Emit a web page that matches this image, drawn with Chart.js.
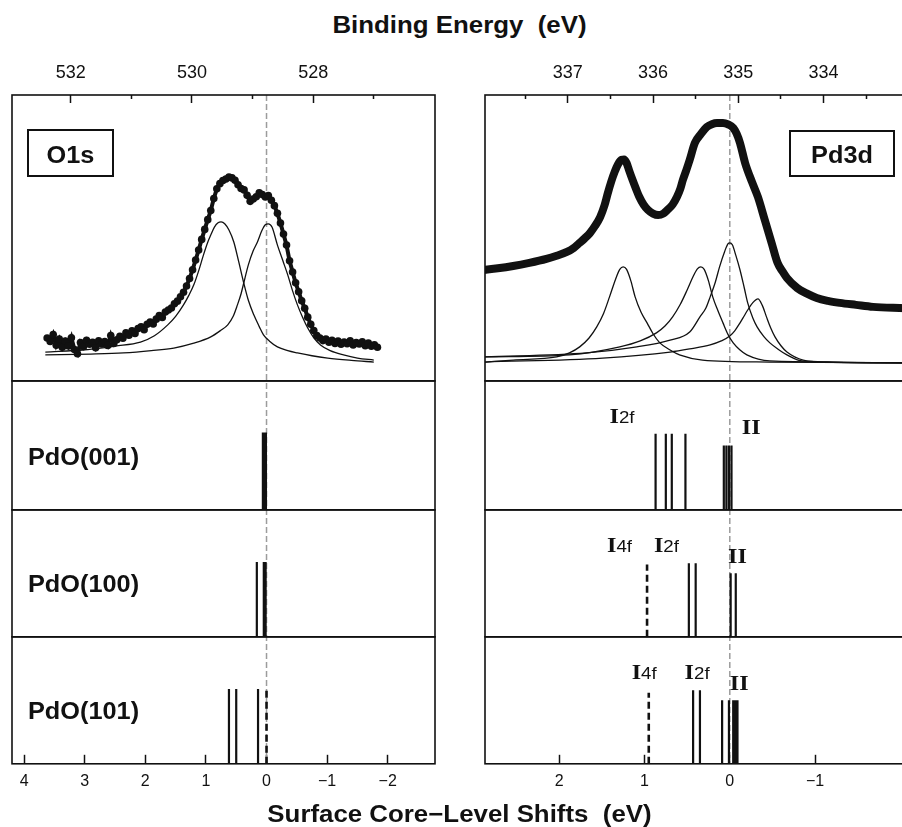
<!DOCTYPE html>
<html>
<head>
<meta charset="utf-8">
<title>O1s / Pd3d surface core-level shifts</title>
<script src="https://cdn.jsdelivr.net/npm/chart.js@4.4.1/dist/chart.umd.min.js"></script>
<style>
  html, body { margin: 0; padding: 0; background: #fff; overflow: hidden; }
  body { width: 902px; height: 827px; position: relative; }
  .col { position: absolute; top: 0; height: 827px; width: 460px; }
  #leftCol { left: 0; }
  #rightCol { left: 460px; }
  .axisTitle { position: absolute; left: 0; width: 919px; text-align: center; white-space: pre;
    font-family: "Liberation Sans", Arial, sans-serif; font-weight: bold; font-size: 23.5px;
    line-height: 24px; color: #111; transform: scaleX(1.1); }
  #topTitle { top: 12.6px; }
  #bottomTitle { top: 802px; }
</style>
</head>
<body>
<div id="topTitle" class="axisTitle">Binding Energy  (eV)</div>
<div class="col" id="leftCol"><canvas id="leftChart"></canvas></div>
<div class="col" id="rightCol"><canvas id="rightChart"></canvas></div>
<div id="bottomTitle" class="axisTitle">Surface Core−Level Shifts  (eV)</div>
<script>
// axes
const leftShiftRange = [-2.78, 4.2];
const rightShiftRange = [-2.23, 2.87];
const o1sRefBE = 528.77;   // binding energy of the 0 shift, O1s
const pdRefBE = 335.1;     // binding energy of the 0 shift, Pd3d
const leftBETicks = [532, 531, 530, 529, 528, 527];
const leftBELabels = [532, 530, 528];
const rightBETicks = [337.5, 337, 336.5, 336, 335.5, 335, 334.5, 334, 333.5];
const rightBELabels = [337, 336, 335, 334];
const leftShiftTicks = [4, 3, 2, 1, 0, -1, -2];
const rightShiftTicks = [2, 1, 0, -1];
const rowNames = ['PdO(001)', 'PdO(100)', 'PdO(101)'];

// O1s measured spectrum
const o1sShift = [3.62, 3.57, 3.52, 3.47, 3.42, 3.37, 3.32, 3.27, 3.22, 3.17, 3.12, 3.07, 3.02, 2.97, 2.92,
  2.87, 2.82, 2.77, 2.72, 2.67, 2.62, 2.57, 2.52, 2.47, 2.42, 2.37, 2.32, 2.27, 2.22, 2.17, 2.12, 2.07, 2.02,
  1.97, 1.92, 1.87, 1.82, 1.77, 1.72, 1.67, 1.62, 1.57, 1.52, 1.47, 1.42, 1.37, 1.32, 1.27, 1.22, 1.17, 1.12,
  1.07, 1.02, 0.97, 0.92, 0.87, 0.82, 0.77, 0.72, 0.67, 0.62, 0.57, 0.52, 0.47, 0.42, 0.37, 0.32, 0.27, 0.22,
  0.17, 0.12, 0.07, 0.02, -0.03, -0.08, -0.13, -0.18, -0.23, -0.28, -0.33, -0.38, -0.43, -0.48, -0.53, -0.58,
  -0.63, -0.68, -0.73, -0.78, -0.83, -0.88, -0.93, -0.98, -1.03, -1.08, -1.13, -1.18, -1.23, -1.28, -1.33,
  -1.38, -1.43, -1.48, -1.53, -1.58, -1.63, -1.68, -1.73, -1.78, -1.83];
const o1sCounts = [15.0, 13.8, 16.2, 12.5, 14.6, 11.8, 13.9, 12.2, 15.1, 11.0, 9.5, 13.4, 12.0, 14.2, 12.8,
  13.5, 11.6, 14.0, 12.9, 13.8, 12.4, 15.9, 13.1, 14.4, 15.6, 14.9, 16.8, 16.0, 17.5, 16.6, 18.3, 18.9, 17.9,
  19.8, 20.6, 19.9, 21.6, 22.9, 22.2, 24.1, 24.8, 25.5, 27.0, 27.9, 29.4, 31.0, 33.2, 35.8, 38.9, 42.3, 45.8,
  49.5, 53.0, 56.4, 59.6, 63.8, 67.2, 69.0, 70.1, 70.6, 71.3, 71.0, 70.2, 68.6, 67.3, 66.8, 64.9, 62.8, 63.6,
  64.4, 65.8, 65.2, 64.3, 64.8, 63.2, 61.3, 58.6, 55.2, 51.4, 47.5, 42.0, 38.1, 34.3, 31.2, 28.0,
  25.4, 22.3, 19.8, 17.6, 15.9, 15.0, 14.1, 14.6, 13.5, 14.2, 13.1, 13.9, 12.8, 13.6, 13.0,
  14.0, 12.6, 13.4, 12.9, 13.7, 12.3, 13.2, 12.1, 12.6, 11.8];

// O1s fit components
const o1sFitAShift = [3.65, 3.00, 2.74, 2.50, 2.08, 1.85, 1.63, 1.50, 1.37, 1.28, 1.20, 1.12, 1.04, 0.97, 0.92,
  0.86, 0.80, 0.75, 0.69, 0.62, 0.54, 0.46, 0.38, 0.30, 0.21, 0.12, 0.05, -0.05, -0.18, -0.35, -0.51, -0.75,
  -1.01, -1.40, -1.77];
const o1sFitACounts = [10.1, 10.9, 11.5, 12.2, 13.6, 15.8, 19.6, 22.6, 26.6, 30.0, 33.6, 38.5, 44.1, 48.5, 51.0,
  53.8, 55.3, 55.6, 55.0, 52.8, 48.6, 41.8, 34.6, 28.2, 23.1, 19.0, 16.1, 13.9, 11.9, 10.6, 9.8, 8.8,
  8.0, 7.2, 6.6];
const o1sFitBShift = [3.65, 2.90, 2.36, 1.90, 1.53, 1.20, 0.92, 0.76, 0.64, 0.55, 0.48, 0.42, 0.38, 0.30, 0.22,
  0.15, 0.08, 0.02, -0.03, -0.09, -0.18, -0.27, -0.35, -0.43, -0.51, -0.60, -0.68, -0.78, -0.89, -1.05,
  -1.27, -1.50, -1.77];
const o1sFitBCounts = [9.1, 9.4, 9.8, 10.6, 11.5, 13.2, 15.4, 17.6, 19.6, 22.6, 26.6, 30.5, 33.9, 40.6, 45.5,
  48.6, 52.4, 54.6, 54.9, 53.8, 47.5, 42.0, 37.1, 31.5, 26.6, 22.0, 18.5, 15.1, 12.6, 10.6,
  9.1, 8.0, 7.3];

// Pd3d measured spectrum
const pdShift = [2.90, 2.72, 2.54, 2.35, 2.15, 2.03, 1.91, 1.83, 1.76, 1.70, 1.64, 1.58, 1.52, 1.47, 1.43,
  1.39, 1.35, 1.31, 1.27, 1.24, 1.21, 1.18, 1.14, 1.10, 1.06, 1.01, 0.96, 0.90, 0.84, 0.78, 0.73, 0.67, 0.62,
  0.58, 0.55, 0.51, 0.47, 0.41, 0.34, 0.27, 0.21, 0.15, 0.08, 0.02, -0.04, -0.08, -0.12, -0.18, -0.26, -0.33,
  -0.41, -0.49, -0.56, -0.62, -0.67, -0.79, -0.90, -1.02, -1.15, -1.29, -1.48, -1.68, -1.99, -2.23];
const pdCounts = [38.8, 39.4, 40.2, 41.3, 42.7, 43.8, 45.1, 46.5, 48.3, 49.9, 51.7, 54.2, 57.3, 61.3, 65.7,
  69.7, 73.1, 75.8, 77.3, 77.4, 76.2, 73.6, 70.3, 67.2, 64.3, 61.6, 59.8, 58.5, 58.0, 58.5, 59.8, 61.7, 64.3,
  67.2, 70.3, 73.7, 77.3, 83.2, 86.3, 88.8, 89.8, 90.2, 90.2, 89.7, 88.5, 86.5, 83.2, 76.2, 69.6, 64.3,
  56.3, 48.3, 41.3, 38.2, 36.0, 32.5, 30.6, 29.0, 28.0, 27.3, 26.6, 25.9, 25.5, 25.3];

// Pd3d fit components
const pdFitAShift = [2.87, 2.54, 2.03, 1.88, 1.76, 1.65, 1.56, 1.48, 1.41, 1.34, 1.29, 1.25, 1.21, 1.16, 1.11,
  1.04, 0.97, 0.90, 0.82, 0.70, 0.59, 0.32, -0.47, -2.23];
const pdFitACounts = [6.6, 7.3, 8.4, 9.8, 11.9, 15.0, 18.9, 23.6, 29.4, 35.5, 39.0, 39.9, 39.0, 35.0, 29.4,
  24.0, 20.3, 16.5, 13.3, 10.8, 9.1, 7.3, 6.6, 6.3];
const pdFitBShift = [2.87, 1.88, 1.29, 1.05, 0.86, 0.76, 0.67, 0.58, 0.50, 0.43, 0.38, 0.34, 0.30, 0.25, 0.20,
  0.14, 0.08, 0.02, -0.04, -0.12, -0.20, -0.47, -2.23];
const pdFitBCounts = [8.4, 9.1, 11.9, 14.0, 16.8, 19.2, 22.4, 26.8, 31.8, 36.5, 39.2, 39.9, 39.0, 35.0, 29.4,
  24.6, 20.3, 16.2, 13.3, 10.8, 9.1, 7.0, 6.3];
const pdFitCShift = [2.87, 1.68, 1.09, 0.70, 0.47, 0.35, 0.28, 0.23, 0.17, 0.12, 0.06, 0.02, 0.00, -0.03, -0.07,
  -0.12, -0.17, -0.21, -0.27, -0.32, -0.40, -0.47, -0.57, -0.67, -0.86, -2.23];
const pdFitCCounts = [8.4, 9.8, 11.9, 14.3, 17.1, 22.4, 25.5, 29.4, 34.5, 39.9, 45.3, 48.0, 48.3, 47.6, 44.0,
  38.8, 32.5, 27.3, 22.0, 18.9, 15.5, 13.3, 11.0, 9.1, 6.9, 6.3];
const pdFitDShift = [2.87, 1.49, 0.70, 0.47, 0.23, 0.10, 0.00, -0.06, -0.12, -0.17, -0.21, -0.27, -0.33, -0.38,
  -0.43, -0.48, -0.53, -0.60, -0.67, -0.86, -1.20, -2.23];
const pdFitDCounts = [6.6, 8.0, 10.1, 11.2, 12.6, 14.0, 15.7, 17.6, 20.3, 22.8, 24.8, 27.4, 28.7, 26.5,
  22.4, 18.5, 15.4, 12.3, 10.1, 7.3, 6.5, 6.3];

// calculated shifts, O1s
const o001Shift = [0.06, 0.035, 0.01];
const o001Height = [60, 60, 60];
const o100Shift = [0.16, 0.045, 0.015];
const o100Height = [59, 59, 59];
const o101Shift = [0.62, 0.50, 0.14];
const o101Height = [59, 59, 59];
const o101DashShift = [0.0];
const o101DashHeight = [59];

// calculated shifts, Pd3d
const p001Shift = [0.87, 0.75, 0.68, 0.52, 0.07, 0.04, 0.01, -0.02];
const p001Height = [59, 59, 59, 59, 50, 50, 50, 50];
const p100Shift = [0.48, 0.40, -0.01, -0.07];
const p100Height = [58, 58, 50, 50];
const p100DashShift = [0.97];
const p100DashHeight = [57];
const p101Shift = [0.43, 0.35, 0.09, 0.01, -0.04, -0.065, -0.09];
const p101Height = [58, 58, 50, 50, 50, 50, 50];
const p101DashShift = [0.95];
const p101DashHeight = [56];

const peakLabels = [
  {row: 'y001', x: 1.41, y: 67, main: 'I', sub: '2f'},
  {row: 'y001', x: -0.14, y: 59, main: 'II', sub: ''},
  {row: 'y100', x: 1.44, y: 67, main: 'I', sub: '4f'},
  {row: 'y100', x: 0.89, y: 67, main: 'I', sub: '2f'},
  {row: 'y100', x: 0.02, y: 58.5, main: 'II', sub: ''},
  {row: 'y101', x: 1.15, y: 67, main: 'I', sub: '4f'},
  {row: 'y101', x: 0.53, y: 67, main: 'I', sub: '2f'},
  {row: 'y101', x: 0.0, y: 58.3, main: 'II', sub: ''}
];

const ink = '#111';
const sans = '"Liberation Sans", Arial, sans-serif';
const serif = '"Liberation Serif", "Times New Roman", serif';
const rowIds = ['ySpec', 'y001', 'y100', 'y101'];
const rowWeights = [286, 129, 127, 127];

function pts(xs, ys) {
  return xs.map((x, i) => ({x: x, y: ys[i]}));
}

function sticks(xs, hs) {
  const out = [];
  xs.forEach((x, i) => { out.push({x: x, y: 0}, {x: x, y: hs[i]}, {x: x, y: null}); });
  return out;
}

function curve(xs, ys) {
  return {data: pts(xs, ys), yAxisID: 'ySpec', borderColor: ink, borderWidth: 1.3,
    pointRadius: 0, cubicInterpolationMode: 'monotone'};
}

function stickSet(xs, hs, row, dashed) {
  return {data: sticks(xs, hs), yAxisID: row, borderColor: ink, pointRadius: 0, spanGaps: false,
    borderWidth: dashed ? 2.6 : 2.2, borderDash: dashed ? [7, 4] : []};
}

function stretchText(ctx, text, x, y, font, align) {
  ctx.save();
  ctx.font = font;
  ctx.textAlign = align;
  ctx.textBaseline = 'alphabetic';
  ctx.translate(x, y);
  ctx.scale(1.1, 1);
  ctx.fillText(text, 0, 0);
  const w = ctx.measureText(text).width * 1.1;
  ctx.restore();
  return w;
}

// frames, reference line and text labels
const decor = {
  id: 'decor',
  beforeDatasetsDraw(chart, args, opts) {
    const {ctx, chartArea, scales} = chart;
    const x = scales.x.getPixelForValue(opts.refShift);
    ctx.save();
    ctx.strokeStyle = '#9c9c9c';
    ctx.lineWidth = 1.5;
    ctx.setLineDash([6, 3]);
    ctx.beginPath();
    ctx.moveTo(x, chartArea.top);
    ctx.lineTo(x, chartArea.bottom);
    ctx.stroke();
    ctx.restore();
  },
  afterDraw(chart, args, opts) {
    const {ctx, chartArea, scales} = chart;
    ctx.save();
    ctx.strokeStyle = ink;
    ctx.fillStyle = ink;
    ctx.lineWidth = 1.6;
    rowIds.forEach(id => {
      const s = scales[id];
      ctx.strokeRect(chartArea.left, s.top, chartArea.right - chartArea.left, s.bottom - s.top);
    });

    const b = opts.box;
    const bx = chartArea.left + b.dx, by = chartArea.top + b.dy;
    ctx.lineWidth = 2;
    ctx.strokeRect(bx, by, b.w, b.h);
    stretchText(ctx, b.text, bx + b.w / 2, by + b.base, 'bold 23px ' + sans, 'center');

    (opts.rowNames || []).forEach((name, i) => {
      const s = scales[rowIds[i + 1]];
      stretchText(ctx, name, chartArea.left + 16, s.getPixelForValue(35), 'bold 23px ' + sans, 'left');
    });

    (opts.peakLabels || []).forEach(l => {
      const x = scales.x.getPixelForValue(l.x);
      const y = scales[l.row].getPixelForValue(l.y);
      const w = stretchText(ctx, l.main, x, y, 'bold 22px ' + serif, 'left');
      if (l.sub) stretchText(ctx, l.sub, x + w, y, '17px ' + sans, 'left');
    });
    ctx.restore();
  }
};

function minus(v) {
  return String(v).replace('-', '\u2212');
}

function makeChart(id, range, refBE, beTicks, beLabels, shiftTicks, datasets, decorOpts, pad) {
  const scales = {
    x: {
      type: 'linear', position: 'bottom', reverse: true, min: range[0], max: range[1],
      afterBuildTicks: s => { s.ticks = shiftTicks.map(v => ({value: v})); },
      afterFit: s => { s.paddingLeft = 0; s.paddingRight = 0; },
      ticks: {autoSkip: false, maxRotation: 0, padding: 17, color: ink,
        font: {family: sans, size: 16}, callback: v => minus(v)},
      grid: {drawOnChartArea: false, tickLength: -9, tickWidth: 1.5, tickColor: ink},
      border: {display: false}
    },
    x2: {
      type: 'linear', position: 'top', reverse: true, min: range[0] + refBE, max: range[1] + refBE,
      afterBuildTicks: s => { s.ticks = beTicks.map(v => ({value: v})); },
      afterFit: s => { s.paddingLeft = 0; s.paddingRight = 0; },
      ticks: {autoSkip: false, maxRotation: 0, padding: 19.4, color: ink,
        font: {family: sans, size: 18}, callback: v => beLabels.includes(v) ? String(v) : ''},
      grid: {drawOnChartArea: false, tickLength: -8, tickWidth: 1.5, tickColor: ink,
        tickBorderDash: c => (c.tick && !beLabels.includes(c.tick.value)) ? [0, 4, 4, 20] : []},
      border: {display: false}
    }
  };
  rowIds.forEach((rid, i) => {
    scales[rid] = {
      type: 'linear', position: 'left', stack: 'rows', stackWeight: rowWeights[i], weight: 4 - i,
      min: 0, max: 100,
      ticks: {display: false},
      grid: {display: false, drawTicks: false},
      border: {display: false}
    };
  });
  return new Chart(document.getElementById(id), {
    type: 'line',
    data: {datasets: datasets},
    plugins: [decor],
    options: {
      responsive: true,
      maintainAspectRatio: false,
      animation: false,
      layout: {autoPadding: false, padding: pad},
      plugins: {legend: {display: false}, tooltip: {enabled: false}, decor: decorOpts},
      scales: scales
    }
  });
}

const leftSets = [
  {data: pts(o1sShift, o1sCounts), yAxisID: 'ySpec', borderColor: ink, borderWidth: 4,
    pointRadius: 3.8, pointBorderWidth: 0, pointBackgroundColor: ink},
  curve(o1sFitAShift, o1sFitACounts),
  curve(o1sFitBShift, o1sFitBCounts),
  stickSet(o001Shift, o001Height, 'y001', false),
  stickSet(o100Shift, o100Height, 'y100', false),
  stickSet(o101Shift, o101Height, 'y101', false),
  stickSet(o101DashShift, o101DashHeight, 'y101', true)
];

const rightSets = [
  {data: pts(pdShift, pdCounts), yAxisID: 'ySpec', borderColor: ink, borderWidth: 8,
    pointRadius: 0, cubicInterpolationMode: 'monotone'},
  curve(pdFitAShift, pdFitACounts),
  curve(pdFitBShift, pdFitBCounts),
  curve(pdFitCShift, pdFitCCounts),
  curve(pdFitDShift, pdFitDCounts),
  stickSet(p001Shift, p001Height, 'y001', false),
  stickSet(p100Shift, p100Height, 'y100', false),
  stickSet(p100DashShift, p100DashHeight, 'y100', true),
  stickSet(p101Shift, p101Height, 'y101', false),
  stickSet(p101DashShift, p101DashHeight, 'y101', true)
];

makeChart('leftChart', leftShiftRange, o1sRefBE, leftBETicks, leftBELabels, leftShiftTicks, leftSets,
  {refShift: 0, box: {text: 'O1s', dx: 16, dy: 35, w: 85, h: 46, base: 33}, rowNames: rowNames},
  {left: 12, right: 25, top: 42.6, bottom: 19});

makeChart('rightChart', rightShiftRange, pdRefBE, rightBETicks, rightBELabels, rightShiftTicks, rightSets,
  {refShift: 0, box: {text: 'Pd3d', dx: 305, dy: 36, w: 104, h: 45, base: 32}, peakLabels: peakLabels},
  {left: 25, right: 0, top: 42.6, bottom: 19});
</script>
</body>
</html>
